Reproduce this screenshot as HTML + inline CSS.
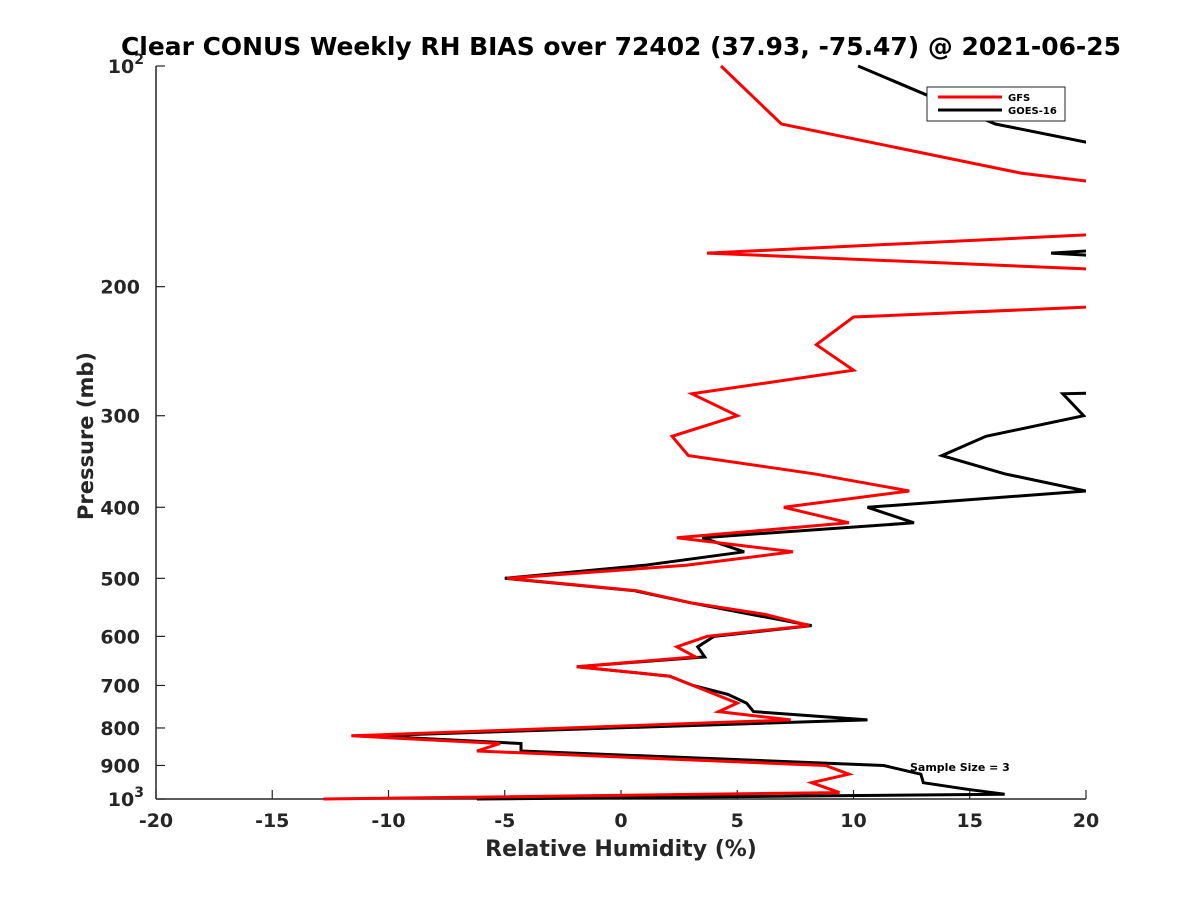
<!DOCTYPE html>
<html><head><meta charset="utf-8"><style>
body{margin:0;background:#fff;}
svg{display:block;font-family:"DejaVu Sans","Liberation Sans",sans-serif;}
</style></head><body>
<svg id="chart" width="1200" height="900">
<rect width="1200" height="900" fill="#fff"/>
<text x="621" y="55" text-anchor="middle" font-size="25" font-weight="bold" textLength="1000" lengthAdjust="spacingAndGlyphs">Clear CONUS Weekly RH BIAS over 72402 (37.93, -75.47) @ 2021-06-25</text>
<defs><clipPath id="plotclip"><rect x="156" y="60" width="930" height="745"/></clipPath></defs>
<g id="grid-axes"></g>
<g id="series" clip-path="url(#plotclip)"></g>
<text x="621" y="856" text-anchor="middle" font-size="22" font-weight="bold" fill="#262626">Relative Humidity (%)</text>
<text transform="translate(93,436) rotate(-90)" text-anchor="middle" font-size="21" font-weight="bold" fill="#262626">Pressure (mb)</text>
<g>
<rect x="927" y="87" width="138" height="34" fill="#fff" stroke="#262626" stroke-width="1"/>
<line x1="938" y1="97" x2="1002" y2="97" stroke="#ff0000" stroke-width="3"/>
<text x="1008" y="101" font-size="10" font-weight="bold">GFS</text>
<line x1="938" y1="110" x2="1002" y2="110" stroke="#000" stroke-width="3"/>
<text x="1008" y="114" font-size="10" font-weight="bold">GOES-16</text>
</g>
<text x="910" y="771" font-size="11" font-weight="bold">Sample Size = 3</text>
</svg>
<script>
const xTicks = [-20,-15,-10,-5,0,5,10,15,20];
const yTicks = [100,200,300,400,500,600,700,800,900,1000];
const yTickLabels = ["10^2","200","300","400","500","600","700","800","900","10^3"];
const gfsPressure = [100,120,140,150,167,180,192,210,220,240,260,280,300,320,340,360,380,400,420,440,460,480,500,520,540,560,580,600,620,640,660,680,700,740,760,780,820,840,860,900,925,950,980,1000];
const gfsValues   = [4.3,6.9,17.2,25,25,3.7,25,25,10.0,8.4,10.0,3.05,5.0,2.2,2.9,8.3,12.4,7.0,9.8,2.4,7.4,2.8,-4.9,0.7,3.0,6.2,8.1,3.7,2.4,3.2,-1.9,2.1,3.1,5.0,4.2,7.3,-11.6,-5.2,-6.2,8.8,9.8,8.2,9.4,-12.8];
const goesPressure = [100,120,127,140,175,180,185,277,280,300,320,340,360,380,400,420,440,460,480,500,520,540,560,580,600,620,640,660,680,700,720,740,760,780,820,840,860,900,925,950,970,985,1000];
const goesValues   = [10.2,16.1,20,25,25,18.5,25,25,19.0,19.9,15.7,13.8,16.5,20,10.6,12.6,3.5,5.3,1.0,-5.0,0.6,3.0,5.6,8.2,4.0,3.3,3.6,-1.9,2.1,3.1,4.6,5.4,5.7,10.6,-10.8,-4.3,-4.3,11.3,12.9,13.0,14.9,16.5,-6.2];

const X0=156,X1=1086,Y0=66,Y1=799;
const xs=v=>X0+(v+20)/40*(X1-X0);
const ys=p=>Y0+Math.log10(p/100)*(Y1-Y0);
const NS="http://www.w3.org/2000/svg";
const ax=document.getElementById('grid-axes');
function mk(tag,attrs,parent){const e=document.createElementNS(NS,tag);for(const k in attrs)e.setAttribute(k,attrs[k]);parent.appendChild(e);return e;}
const axL=mk('line',{x1:X0,y1:Y0,x2:X0,y2:Y1,stroke:'#262626','stroke-width':1.5},ax);


const axB=mk('line',{x1:X0,y1:Y1,x2:X1,y2:Y1,stroke:'#262626','stroke-width':1.5},ax);


xTicks.forEach(v=>{
  const x=xs(v);
  mk('line',{x1:x,y1:Y1,x2:x,y2:Y1-9,stroke:'#262626','stroke-width':1.2},ax);
  const t=mk('text',{x:x,y:Y1+28,'text-anchor':'middle','font-size':19,'font-weight':'bold',fill:'#262626'},ax);
  t.textContent=v;
  
  
});
yTicks.forEach((p,i)=>{
  const y=ys(p);
  mk('line',{x1:X0,y1:y,x2:X0+9,y2:y,stroke:'#262626','stroke-width':1.2},ax);
  const lab=yTickLabels[i];
  const t=mk('text',{x:X0-16,y:y+7,'text-anchor':'end','font-size':19,'font-weight':'bold',fill:'#262626'},ax);
  if(lab.indexOf('^')>=0){
    const [b,e]=lab.split('^');
    t.textContent=b;
    const s=mk('tspan',{dy:-9,'font-size':14},t);s.textContent=e;
    t.setAttribute('x',X0-12);
  } else t.textContent=lab;
  
  
});
const sg=document.getElementById('series');
function line(P,V,color,name){
  const d=P.map((p,i)=>(i?'L':'M')+xs(V[i]).toFixed(1)+','+ys(p).toFixed(1)).join(' ');
  const e=mk('path',{d:d,fill:'none',stroke:color,'stroke-width':3,'stroke-linejoin':'miter'},sg);
  
  
}
line(goesPressure,goesValues,'#000','goes16-line');
line(gfsPressure,gfsValues,'#ff0000','gfs-line');
</script>
</body></html>
